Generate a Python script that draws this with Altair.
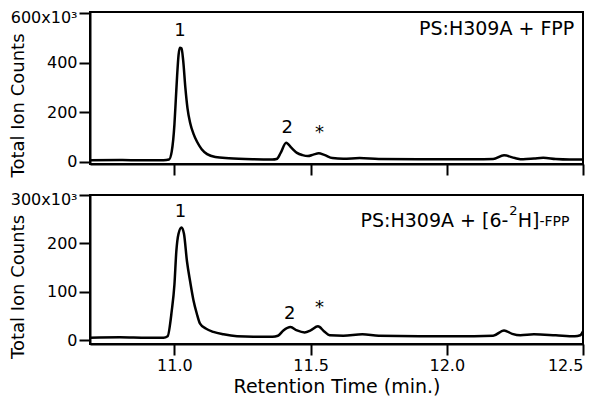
import altair as alt
import pandas as pd

FONT = "DejaVu Sans"

# ---- top trace: PS:H309A + FPP (x = retention time, y = counts in thousands)
top_t = [10.69, 10.80, 10.90, 10.96, 10.98, 10.99, 11.00, 11.005, 11.01, 11.015, 11.02, 11.026,
         11.032, 11.04, 11.048, 11.058, 11.07, 11.083, 11.10, 11.12, 11.15, 11.20, 11.29, 11.36,
         11.375, 11.39, 11.41, 11.43, 11.45, 11.47, 11.49, 11.51, 11.53, 11.55, 11.58, 11.62,
         11.68, 11.75, 11.90, 12.10, 12.17, 12.21, 12.25, 12.28, 12.32, 12.354, 12.40, 12.45, 12.50]
top_v = [5, 6, 5, 5, 8, 40, 150, 250, 350, 430, 460, 458,
         410, 300, 215, 155, 112, 80, 50, 30, 18, 13, 9, 8,
         10, 35, 76, 55, 35, 26, 22, 28, 33, 27, 14, 11,
         14, 10, 9, 9, 10, 25, 14, 9, 12, 15, 10, 8, 8]

# ---- bottom trace: PS:H309A + [6-2H]-FPP
bot_t = [10.69, 10.80, 10.90, 10.96, 10.975, 10.99, 11.00, 11.007, 11.015, 11.026, 11.035, 11.046,
         11.058, 11.07, 11.082, 11.094, 11.115, 11.143, 11.18, 11.23, 11.29, 11.36, 11.38, 11.40,
         11.426, 11.45, 11.478, 11.50, 11.527, 11.55, 11.57, 11.62, 11.69, 11.75, 11.90, 12.10,
         12.17, 12.21, 12.24, 12.27, 12.32, 12.40, 12.47, 12.49, 12.50]
bot_v = [5, 6, 5, 5, 8, 60, 115, 184, 220, 233, 220, 163,
         120, 82, 55, 34, 24, 17, 12, 8, 7, 7, 9, 20,
         27, 20, 16, 20, 28.5, 18, 10, 9, 12, 9, 8, 8,
         9, 20, 13, 10, 12, 10, 8, 10, 18]

# ---- peak annotations
peak_labels = ["1", "2", "*"]
top_peak_t = [11.02, 11.414, 11.533]
top_peak_v = [527, 137, 116]
bot_peak_t = [11.022, 11.423, 11.533]
bot_peak_v = [265, 53, 67]

x_ticks = [11.0, 11.5, 12.0, 12.5]
top_y_ticks = [0, 200, 400, 600]
bot_y_ticks = [0, 100, 200, 300]
x_domain = [10.69, 12.5]

W = 493

top_df = pd.DataFrame({"t": top_t, "v": top_v})
bot_df = pd.DataFrame({"t": bot_t, "v": bot_v})
top_ann = pd.DataFrame({"t": top_peak_t, "v": top_peak_v, "lab": peak_labels})
bot_ann = pd.DataFrame({"t": bot_peak_t, "v": bot_peak_v, "lab": peak_labels})


def panel(df, ann, ydom, yticks, ymax_label, height, show_x, label_parts):
    xaxis = alt.Axis(values=x_ticks, labels=show_x, format=".1f",
                     title="Retention Time (min.)" if show_x else None,
                     titleFontSize=19, titleFontWeight="normal", titlePadding=4)
    x = alt.X("t:Q", scale=alt.Scale(domain=x_domain, nice=False, zero=False), axis=xaxis)
    yaxis = alt.Axis(values=yticks, title="Total Ion Counts", titleFontSize=18,
                     titleFontWeight="normal", titleX=-72, titleY=height / 2 + 17,
                     titleBaseline="middle", titleAngle=270,
                     labelOffset={"condition": {"test": f"datum.value == {ymax_label}", "value": 4},
                                  "value": 0},
                     labelExpr=f"datum.value == {ymax_label} ? '{ymax_label}x10\u00b3' : datum.label")
    y = alt.Y("v:Q", scale=alt.Scale(domain=ydom, nice=False, zero=False), axis=yaxis)
    line = alt.Chart(df).mark_line(color="black", strokeWidth=2.5, interpolate="monotone").encode(x=x, y=y)
    txt = alt.Chart(ann).mark_text(fontSize=18, font=FONT, baseline="middle", color="black").encode(
        x="t:Q", y="v:Q", text="lab:N")
    layers = [line, txt]
    for (s, tx, vy, dx, dy, fs, al) in label_parts:
        layers.append(
            alt.Chart(pd.DataFrame({"t": [tx], "v": [vy], "s": [s]})).mark_text(
                fontSize=fs, font=FONT, align=al, baseline="middle", dx=dx, dy=dy, color="black"
            ).encode(x="t:Q", y="v:Q", text="s:N")
        )
    return alt.layer(*layers).properties(width=W, height=height)


top_label = [("PS:H309A + FPP", 12.468, 535, 0, 0, 19, "right")]
bot_label = [
    ("-FPP", 12.45, 247, 0, 1, 14, "right"),
    ("H]", 12.45, 247, -30, 0, 19, "right"),
    ("2", 12.45, 247, -56, -10, 13, "center"),
    ("PS:H309A + [6-", 12.45, 247, -61, 0, 19, "right"),
]

top = panel(top_df, top_ann, [-10, 605], top_y_ticks, 600, 152, False, top_label)
bot = panel(bot_df, bot_ann, [-8, 300], bot_y_ticks, 300, 149, True, bot_label)

chart = alt.vconcat(top, bot, spacing=11).properties(padding=0).configure(padding=0).configure_view(
    stroke="black", strokeWidth=2
).configure_axis(
    grid=False, domainColor="black", domainWidth=2, tickColor="black", tickWidth=2,
    tickSize=11, labelFont=FONT, titleFont=FONT, labelFontSize=16, labelColor="black",
    titleColor="black", labelPadding=2
)

chart.save("out.html", embed_options={"renderer": "svg", "actions": False})
